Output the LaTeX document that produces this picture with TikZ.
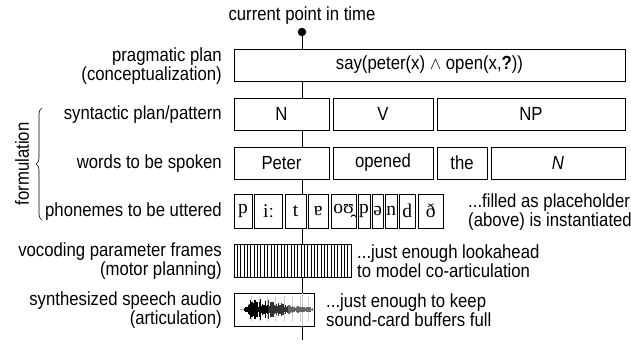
\documentclass[tikz,border=0pt]{standalone}
\usepackage{fontspec}
\setmainfont{Liberation Sans}[FakeStretch=0.88]
\newfontfamily\ipa{Liberation Serif}
\usetikzlibrary{decorations.pathreplacing}

\tikzset{
  txt/.style={font=\fontsize{19}{15}\selectfont, inner sep=0pt},
  lab/.style={txt, anchor=east, align=right},
  note/.style={txt, anchor=west, align=left},
  cell/.style={draw, fill=white, line width=0.8pt, inner sep=0pt,
    font=\fontsize{19}{15}\selectfont},
  phon/.style={cell, font=\ipa\fontsize{19.5}{19.5}\selectfont},
  timeline/.style={line width=0.9pt},
}

% box given by its corners: [options]{name}{x1}{y1}{x2}{y2}{text}
\newcommand\cellbox[7][]{%
  \node[cell, #1, minimum width={(#5-#3)*1pt}, minimum height={(#6-#4)*1pt}]
    (#2) at ({(#3+#5)/2},{(#4+#6)/2}) {#7};}

\begin{document}
\begin{tikzpicture}[x=1pt, y=-1pt]
\useasboundingbox (0,0) rectangle (631,343);

% time axis
\node[txt, anchor=base] (now) at (302,20) {current point in time};
\node[circle, fill, inner sep=0pt, minimum size=8.5pt] (dot) at (302,32) {};
\coordinate (tend) at (302,340);
\draw[timeline] (dot) -- (tend);

% pragmatic plan
\cellbox{prag}{234}{49}{625}{81}{say(peter(x) $\wedge$ open(x,\textbf{?}))}

% syntactic pattern
\cellbox{synN}{234}{98}{329}{130}{N}
\cellbox{synV}{333}{98}{433}{130}{V}
\cellbox{synNP}{437}{98}{625}{130}{NP}

% words
\cellbox{wPeter}{234}{147}{329}{179}{Peter}
\cellbox{wOpened}{333}{147}{433}{179}{opened}
\cellbox{wThe}{437}{147}{487}{179}{the}
\cellbox{wN}{491}{147}{625}{179}{\itshape N}

% phonemes
\cellbox[phon]{ph1}{234}{194}{252}{228}{p}
\cellbox[phon]{ph2}{254.5}{194}{282.5}{228}{iː}
\cellbox[phon]{ph3}{285}{194}{306}{228}{t}
\cellbox[phon]{ph4}{308}{194}{328.5}{228}{ɐ}
\cellbox[phon]{ph5}{331}{194}{356}{228}{oʊ̯}
\cellbox[phon]{ph6}{358}{194}{370}{228}{p}
\cellbox[phon]{ph7}{372}{194}{383.5}{228}{ə}
\cellbox[phon]{ph8}{385}{194}{397.5}{228}{n}
\cellbox[phon]{ph9}{399.5}{194}{415}{228}{d}
\cellbox[phon]{ph10}{418}{194}{443.5}{228}{ð}

% vocoding frames
\cellbox{frames}{234}{244}{351}{277}{}
\foreach \k in {1,...,34}
  \draw[line width=0.5pt] ({234+\k*117/35},244) -- ({234+\k*117/35},277);

% synthesized audio
\cellbox{audio}{234}{293}{314}{326}{}
\begin{scope}
  \clip (234.6,293.6) rectangle (313.4,325.4);
  \foreach \k in {0,...,7}
    \draw[gray!35, line width=0.4pt] ({251+\k*8.2},296) -- ({251+\k*8.2},322);
  \draw[gray!40, line width=0.4pt] (302,293) -- (302,326);
  \draw[gray!70, line width=0.4pt] (240,309.5) -- (312,309.5);
  \pgfmathsetseed{11}
  \foreach \i in {0,...,136} {
    \pgfmathsetmacro\xx{244+\i*0.5}
    \pgfmathsetmacro\env{\xx<250 ? 0.8+(\xx-244)*1.4
      : (\xx<268 ? 10.5+2.5*sin(\i*37) : max(1, 11*exp(-(\xx-268)/28)))}
    \pgfmathsetmacro\amp{\env*(0.2+0.8*rnd)}
    \pgfmathsetmacro\shade{\xx<268 ? 100 : (\xx<288 ? 80 : 60)}
    \draw[black!\shade, line width=0.45pt] (\xx,{309.5-\amp}) -- (\xx,{309.5+\amp});
  }
\end{scope}

% level labels
\node[lab] (lprag) at (222,66) {pragmatic plan\\(conceptualization)};
\node[lab] (lsyn) at (222,115) {syntactic plan/pattern};
\node[lab] (lwords) at (222,164) {words to be spoken};
\node[lab] (lphon) at (222,212) {phonemes to be uttered};
\node[lab] (lframes) at (222,261) {vocoding parameter frames\\(motor planning)};
\node[lab] (laudio) at (222,310) {synthesized speech audio\\(articulation)};

% grouping of the formulation levels
\draw[line width=0.6pt, decorate, decoration={brace, amplitude=6pt}]
  (42,220) -- (42,108);
\node[txt, rotate=90] (form) at (22,164) {formulation};

% side notes
\node[note] (nphon) at (468,212) {...filled as placeholder\\(above) is instantiated};
\node[note] (nframes) at (357,261) {...just enough lookahead\\to model co-articulation};
\node[note] (naudio) at (326,310) {...just enough to keep\\sound-card buffers full};
\end{tikzpicture}
\end{document}
